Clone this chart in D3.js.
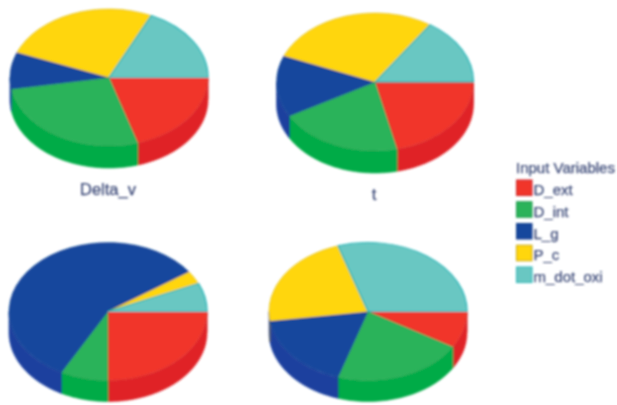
<!DOCTYPE html>
<html>
<head>
<meta charset="utf-8">
<script src="https://cdn.jsdelivr.net/npm/d3@7"></script>
<style>html,body{margin:0;padding:0;background:#fff;overflow:hidden}svg{display:block}</style>
</head>
<body>
<svg id="c" width="617" height="405"></svg>
<script>
const categories = ["D_ext","D_int","L_g","P_c","m_dot_oxi"];
const deltaV = [20.3,27.0,8.7,26.0,18.0];
const tVals  = [21.4,20.4,14.4,28.2,15.6];
const thirdVals  = [25.0,7.8,57.5,3.0,6.7];
const fourthVals = [8.6,21.3,17.9,22.3,29.9];
const titles = ["Delta_v","t","",""];
const legendTitle = "Input Variables";
const topColors  = ["#f1352a","#2bb35a","#12479d","#ffd60a","#69c7c2"];
const sideColors = ["#e02125","#00ab47","#1b3f9e","#1b3f9e","#19b5b8"];
const edgeColors = ["#c9252a","#239a4e","#123f8c","#c9a70f","#19b5b8"];

const svg = d3.select("#c");
const defs = svg.append("defs");
defs.append("filter").attr("id","soft").attr("x","-5%").attr("y","-5%").attr("width","110%").attr("height","110%")
  .append("feGaussianBlur").attr("stdDeviation",0.9);
const root = svg.append("g").attr("filter","url(#soft)");

const layouts = [
  {vals:deltaV, cx:109, cy:77.5, rx:99, ry:68.5, depth:22, lx:108, ly:195},
  {vals:tVals, cx:375, cy:82, rx:98.5, ry:69, depth:22, lx:374, ly:200},
  {vals:thirdVals, cx:108, cy:311.5, rx:99, ry:69, depth:21},
  {vals:fourthVals, cx:368, cy:311.5, rx:99, ry:69, depth:21}
];
const topColor = d3.scaleOrdinal(categories, topColors);
const sideColor = d3.scaleOrdinal(categories, sideColors);
const edgeColor = d3.scaleOrdinal(categories, edgeColors);
const pie = d3.pie().sort(null).startAngle(Math.PI/2).endAngle(Math.PI*2.5);
const font = "Liberation Sans, Arial, sans-serif";
const ink = "#3c4a78";

layouts.forEach((L,idx)=>{
  const g = root.append("g").attr("transform",`translate(${L.cx},${L.cy})`);
  const slices = pie(L.vals).map((s,i)=>({...s,cat:categories[i]}));
  const arc = d3.arc().innerRadius(0).outerRadius(L.rx);
  const px = a => L.rx*Math.sin(a), py = a => -L.ry*Math.cos(a);
  const wall = g.append("g");
  slices.forEach(s=>{
    const a0 = Math.max(s.startAngle, Math.PI/2), a1 = Math.min(s.endAngle, Math.PI*1.5);
    if(a1<=a0) return;
    const as = d3.range(0,49).map(k=>a0+(a1-a0)*k/48);
    const pts = as.map(a=>[px(a),py(a)]).concat(as.slice().reverse().map(a=>[px(a),py(a)+L.depth]));
    wall.append("path").attr("d",d3.line()(pts)+"Z")
      .attr("fill",sideColor(s.cat)).attr("stroke",sideColor(s.cat)).attr("stroke-width",0.6);
    wall.append("path").attr("d",d3.line()([[px(a0),py(a0)],[px(a0),py(a0)+L.depth]]))
      .attr("stroke",edgeColor(s.cat)).attr("stroke-width",0.6).attr("fill","none");
  });
  const top = g.append("g").attr("transform",`scale(1,${L.ry/L.rx})`);
  slices.forEach(s=>{
    top.append("path").attr("d",arc(s)).attr("fill",topColor(s.cat))
      .attr("stroke",edgeColor(s.cat)).attr("stroke-width",s.cat==="m_dot_oxi"?1.3:0.5)
      .attr("stroke-linejoin","round");
  });
  if(titles[idx]){
    root.append("text").attr("x",L.lx).attr("y",L.ly).attr("text-anchor","middle")
      .attr("font-family",font).attr("font-size",16.5)
      .attr("fill",ink).attr("stroke",ink).attr("stroke-width",0.25).text(titles[idx]);
  }
});

const ly = d3.scalePoint().domain(categories).range([180,267]);
root.append("text").attr("x",516).attr("y",173).attr("font-family",font)
  .attr("font-size",15).attr("fill",ink).attr("stroke",ink).attr("stroke-width",0.25).text(legendTitle);
categories.forEach(c=>{
  root.append("rect").attr("x",516.5).attr("y",ly(c)).attr("width",15.5).attr("height",15.5)
    .attr("fill",topColor(c)).attr("stroke",c==="m_dot_oxi"?"#19b5b8":edgeColor(c)).attr("stroke-width",1);
  root.append("text").attr("x",533.5).attr("y",ly(c)+15).attr("font-family",font)
    .attr("font-size",15).attr("fill",ink).attr("stroke",ink).attr("stroke-width",0.25).text(c);
});
</script>
</body>
</html>
